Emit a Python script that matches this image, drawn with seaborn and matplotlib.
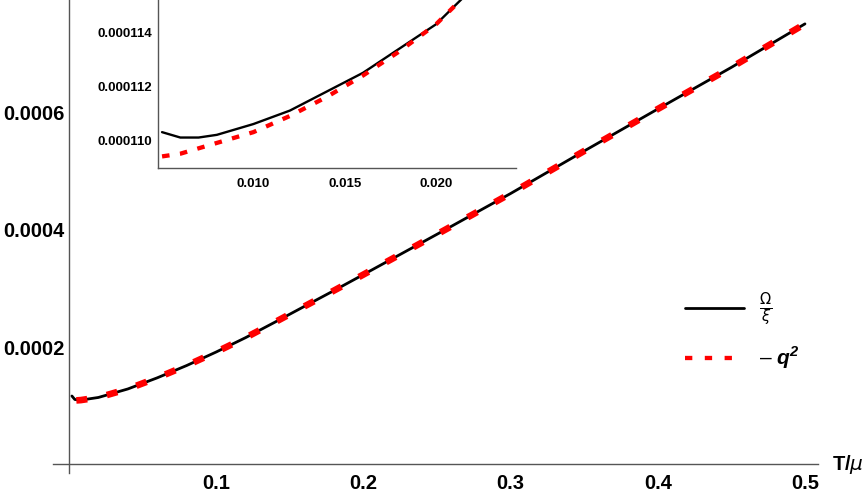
import numpy as np
import pandas as pd
import seaborn as sns
import matplotlib.pyplot as plt
from matplotlib.lines import Line2D
from matplotlib.ticker import MultipleLocator, FuncFormatter

sns.set_style("white")
plt.rcParams["font.family"] = ["Liberation Sans", "DejaVu Sans"]
plt.rcParams["text.color"] = "black"
plt.rcParams["mathtext.fontset"] = "custom"
plt.rcParams["mathtext.bf"] = "Liberation Sans:bold:italic"

# main curve (T/mu, value)
T_main = [0.002, 0.004, 0.008, 0.02, 0.04, 0.06, 0.08, 0.10, 0.12, 0.14, 0.16,
          0.18, 0.20, 0.25, 0.30, 0.35, 0.40, 0.45, 0.50]
omega_main = [0.0001165, 0.0001105, 0.0001095, 0.0001140, 0.0001285, 0.0001475,
              0.0001685, 0.0001915, 0.0002160, 0.0002425, 0.0002694, 0.0002962,
              0.0003235, 0.0003922, 0.0004617, 0.0005342, 0.0006058, 0.0006768,
              0.0007510]
T_q2_main = [0.005, 0.008, 0.02, 0.04, 0.06, 0.08, 0.10, 0.12, 0.14, 0.16,
             0.18, 0.20, 0.25, 0.30, 0.35, 0.40, 0.45, 0.50]
q2_main = [0.0001090, 0.0001095, 0.0001140, 0.0001285, 0.0001475, 0.0001685,
           0.0001915, 0.0002160, 0.0002425, 0.0002694, 0.0002962, 0.0003235,
           0.0003922, 0.0004617, 0.0005342, 0.0006058, 0.0006768, 0.0007510]

# inset (zoom at low T)
T_in = [0.005, 0.006, 0.007, 0.008, 0.009, 0.010, 0.012, 0.014, 0.016, 0.018,
        0.020, 0.0215]
omega_in = [0.0001103, 0.0001101, 0.0001101, 0.0001102, 0.0001104, 0.0001106,
            0.0001111, 0.0001118, 0.0001125, 0.0001134, 0.0001143, 0.0001153]
q2_in = [0.0001094, 0.0001095, 0.0001097, 0.0001099, 0.0001101, 0.0001103,
         0.0001109, 0.0001116, 0.0001124, 0.0001133, 0.0001143, 0.0001153]

main_xticks = [0.1, 0.2, 0.3, 0.4, 0.5]
main_yticks = [0.0002, 0.0004, 0.0006]
inset_xticks = [0.010, 0.015, 0.020]
inset_yticks = [0.000110, 0.000112, 0.000114]

axis_col = "#555555"
red = "#ff0000"

fig = plt.figure(figsize=(8.65, 4.94), dpi=100)
ax = fig.add_axes([0.0610, 0.0425, 0.8849, 0.9575])

sns.lineplot(x=T_main, y=omega_main, ax=ax, color="black", linewidth=2.0,
             estimator=None, sort=False)
sns.lineplot(x=T_q2_main, y=q2_main, ax=ax, color=red, linewidth=4.8,
             estimator=None, sort=False, linestyle=(0, (1.65, 3.0)))
ax.lines[-1].set_dash_capstyle("butt")

ax.set_xlim(-0.011, 0.509)
ax.set_ylim(-0.0000148, 0.0007917)
for s in ["top", "right"]:
    ax.spines[s].set_visible(False)
ax.spines["left"].set_position(("data", 0))
ax.spines["bottom"].set_position(("data", 0))
for s in ["left", "bottom"]:
    ax.spines[s].set_color(axis_col)
    ax.spines[s].set_linewidth(1.0)

ax.set_xticks(main_xticks)
ax.set_yticks(main_yticks)
ax.xaxis.set_minor_locator(MultipleLocator(0.02))
ax.yaxis.set_minor_locator(MultipleLocator(0.00005))
ax.xaxis.set_major_formatter(FuncFormatter(lambda v, p: f"{v:.1f}"))
ax.yaxis.set_major_formatter(FuncFormatter(lambda v, p: f"{v:.4f}"))
ax.tick_params(which="both", direction="in", color=axis_col, width=1.0,
               labelcolor="black")
ax.tick_params(which="major", length=6, labelsize=14.5)
ax.tick_params(which="minor", length=3.5)
ax.tick_params(axis="x", which="major", pad=7)
ax.tick_params(axis="y", which="major", pad=3)
for lab in ax.get_xticklabels() + ax.get_yticklabels():
    lab.set_fontweight("bold")
ax.set_xlabel("")
ax.set_ylabel("")
ax.patch.set_alpha(0)

ax.annotate(r"T/$\mu$", xy=(0.509, 0), xycoords="data", xytext=(14, 0),
            textcoords="offset pixels", ha="left", va="center",
            fontsize=14.5, fontweight="bold", annotation_clip=False)

# legend
h1 = Line2D([], [], color="black", linewidth=2.0)
h2 = Line2D([], [], color=red, linewidth=3.1, linestyle=(0, (1.7, 2.9)),
            dash_capstyle="butt")
leg = ax.legend([h1, h2], [r"$\frac{\Omega}{\xi}$",
                           "\u2013 $\\mathbf{q}^{\\mathbf{2}}$"],
                loc="center left", bbox_to_anchor=(0.781, 0.330),
                bbox_transform=fig.transFigure, frameon=False, borderpad=0,
                handlelength=3.0, handletextpad=0.8, labelspacing=0.85,
                fontsize=14)
t1, t2 = leg.get_texts()
t1.set_fontsize(15)
t2.set_fontsize(15)

# inset
axin = fig.add_axes([0.1827, 0.6599, 0.4139, 0.3401])
sns.lineplot(x=T_in, y=omega_in, ax=axin, color="black", linewidth=1.7,
             estimator=None, sort=False)
sns.lineplot(x=T_in, y=q2_in, ax=axin, color=red, linewidth=3.1,
             estimator=None, sort=False, linestyle=(0, (1.75, 2.45)))
axin.lines[-1].set_dash_capstyle("butt")
axin.set_xlim(0.00478, 0.02438)
axin.set_ylim(0.00010897, 0.0001152)
for s in ["top", "right"]:
    axin.spines[s].set_visible(False)
for s in ["left", "bottom"]:
    axin.spines[s].set_color(axis_col)
    axin.spines[s].set_linewidth(1.0)
axin.set_xticks(inset_xticks)
axin.set_yticks(inset_yticks)
axin.xaxis.set_minor_locator(MultipleLocator(0.001))
axin.yaxis.set_minor_locator(MultipleLocator(0.0000005))
axin.xaxis.set_major_formatter(FuncFormatter(lambda v, p: f"{v:.3f}"))
axin.yaxis.set_major_formatter(FuncFormatter(lambda v, p: f"{v:.6f}"))
axin.tick_params(which="both", direction="in", color=axis_col, width=1.0,
                 labelcolor="black")
axin.tick_params(which="major", length=5, labelsize=9.5)
axin.tick_params(which="minor", length=3)
axin.tick_params(axis="x", which="major", pad=7)
axin.tick_params(axis="y", which="major", pad=4)
for lab in axin.get_xticklabels() + axin.get_yticklabels():
    lab.set_fontweight("bold")
axin.set_xlabel("")
axin.set_ylabel("")
axin.patch.set_alpha(0)

fig.savefig("out.png", dpi=100)
